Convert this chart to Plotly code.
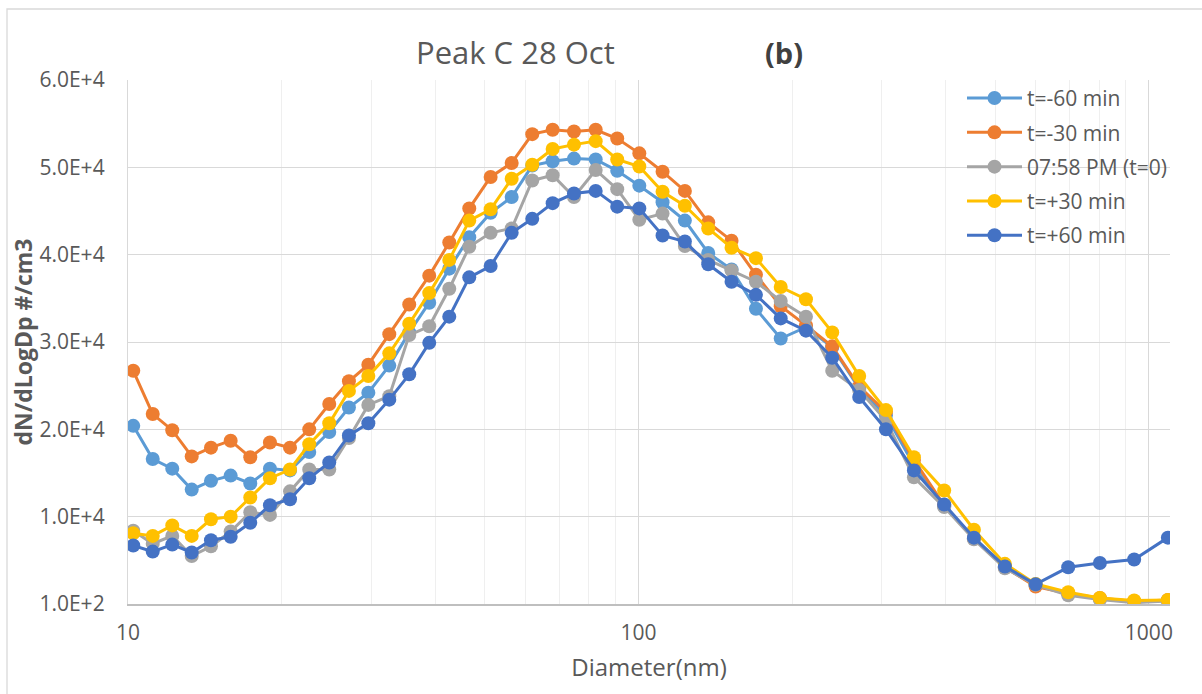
import plotly.graph_objects as go

# ---- data ----
diameter_nm = [10.24, 11.18, 12.21, 13.33, 14.54, 15.89, 17.36, 18.97, 20.77, 22.65,
               24.79, 27.09, 29.57, 32.50, 35.56, 38.92, 42.60, 46.62, 51.34, 56.45,
               61.94, 67.91, 74.77, 82.46, 90.88, 100.4, 111.5, 123.3, 137.0, 152.2,
               169.9, 190.0, 212.9, 239.7, 270.7, 305.4, 346.5, 397.2, 454.2, 522.3,
               600.0, 695.0, 801.8, 935.8, 1089.5]

t_minus_60 = [20500, 16700, 15600, 13200, 14200, 14800, 13900, 15600, 15400, 17500,
              19800, 22600, 24300, 27400, 31200, 34600, 38500, 42100, 44900, 46700,
              50300, 50800, 51100, 51000, 49700, 48000, 46100, 44000, 40300, 38400,
              33900, 30500, 31800, 29500, 24800, 21700, 16000, 11300, 7600, 4300,
              2200, 1300, 700, 400, 500]

t_minus_30 = [26800, 21850, 20000, 17000, 18000, 18800, 16900, 18600, 18000, 20100,
              23000, 25600, 27500, 31000, 34400, 37700, 41500, 45400, 49000, 50600,
              53900, 54400, 54200, 54400, 53400, 51700, 49600, 47400, 43800, 41700,
              37800, 34200, 32000, 29600, 25000, 22100, 16600, 11400, 7600, 4300,
              2100, 1300, 800, 400, 550]

t_zero = [8500, 7000, 7900, 5600, 6700, 8400, 10600, 10300, 13000, 15500,
          15500, 19100, 22900, 23900, 30900, 31900, 36200, 41000, 42600, 43100,
          48600, 49200, 46700, 49800, 47600, 44100, 44800, 41100, 39500, 38300,
          37000, 34800, 33000, 26800, 24600, 21100, 14600, 11200, 7500, 4200,
          2300, 1100, 600, 250, 450]

t_plus_30 = [8200, 7900, 9100, 7900, 9800, 10100, 12300, 14500, 15500, 18400,
             20800, 24500, 26200, 28800, 32200, 35700, 39500, 44000, 45300, 48800,
             50400, 52200, 52700, 53100, 51000, 50200, 47300, 45700, 43100, 40900,
             39700, 36400, 35000, 31200, 26200, 22300, 16900, 13100, 8600, 4700,
             2400, 1450, 800, 500, 550]

t_plus_60 = [6800, 6100, 6900, 6000, 7400, 7800, 9400, 11400, 12100, 14500,
             16300, 19400, 20800, 23500, 26400, 30000, 33000, 37500, 38800, 42600,
             44200, 46000, 47100, 47400, 45600, 45400, 42300, 41600, 39000, 37000,
             35500, 32800, 31400, 28300, 23800, 20100, 15400, 11500, 7700, 4400,
             2350, 4300, 4800, 5200, 7700]

series_names = ["t=-60 min", "t=-30 min", "07:58 PM (t=0)", "t=+30 min", "t=+60 min"]
series_colors = ["#5B9BD5", "#ED7D31", "#A5A5A5", "#FFC000", "#4472C4"]
y_tick_labels = ["1.0E+2", "1.0E+4", "2.0E+4", "3.0E+4", "4.0E+4", "5.0E+4", "6.0E+4"]
x_tick_values = [10, 100, 1000]
x_tick_labels = ["10", "100", "1000"]

FONT = "Open Sans"
TXT = "#595959"

fig = go.Figure()
for i, (name, color, vals) in enumerate(zip(series_names, series_colors,
                             [t_minus_60, t_minus_30, t_zero, t_plus_30, t_plus_60])):
    fig.add_trace(go.Scatter(
        x=diameter_nm, y=vals, name=name, mode="lines+markers",
        legendgroup=f"g{i}",
        line=dict(color=color, width=3),
        marker=dict(color=color, size=14, line=dict(width=0)),
    ))

y_tick_vals = [100 + 10000 * i for i in range(len(y_tick_labels))]

fig.update_layout(
    width=1202, height=694,
    margin=dict(l=128, r=32, t=80, b=90),
    paper_bgcolor="white", plot_bgcolor="white",
    font=dict(family=FONT, size=21, color=TXT),
    showlegend=True,
    legend=dict(x=(962 - 128) / 1042, y=1.004, xanchor="left", yanchor="top",
                bgcolor="rgba(0,0,0,0)", font=dict(size=21, color=TXT),
                itemwidth=55, tracegroupgap=4, traceorder="grouped"),
    xaxis=dict(
        type="log", range=[1, 3.0414],
        tickvals=x_tick_values, ticktext=x_tick_labels,
        showgrid=True, gridcolor="#D9D9D9", gridwidth=1.3,
        minor=dict(dtick="D1", showgrid=True, gridcolor="#EFEFEF", gridwidth=1.3, ticks=""),
        showline=True, linecolor="#BFBFBF", linewidth=1.5, mirror=False,
        ticks="outside", ticklen=9, tickcolor="rgba(0,0,0,0)",
        tickfont=dict(size=21, color=TXT), zeroline=False,
        title=dict(text="Diameter(nm)", font=dict(size=24, color=TXT), standoff=14),
    ),
    yaxis=dict(
        range=[100, 60100],
        tickvals=y_tick_vals, ticktext=y_tick_labels,
        showgrid=True, gridcolor="#D9D9D9", gridwidth=1.3,
        showline=True, linecolor="#D9D9D9", linewidth=1.3,
        ticks="outside", ticklen=18, tickcolor="rgba(0,0,0,0)",
        tickfont=dict(size=21, color=TXT), zeroline=False,
        title=dict(text="<b>dN/dLogDp #/cm3</b>", font=dict(size=23, color=TXT), standoff=0),
    ),
)

fig.update_xaxes(layer="above traces")

# title texts
fig.add_annotation(text="Peak C 28 Oct", xref="paper", yref="paper",
                   x=(515 - 128) / 1042, y=1 + (80 - 52) / 524,
                   showarrow=False, xanchor="center", yanchor="middle",
                   font=dict(size=31, color=TXT, family=FONT))
fig.add_annotation(text="<b>(b)</b>", xref="paper", yref="paper",
                   x=(784 - 128) / 1042, y=1 + (80 - 52) / 524,
                   showarrow=False, xanchor="center", yanchor="middle",
                   font=dict(size=29, color="#404040", family=FONT))

# outer chart border (top/left visible)
fig.add_shape(type="rect", xref="paper", yref="paper",
              x0=(7 - 128) / 1042, x1=(1215 - 128) / 1042,
              y0=-(710 - 604) / 524, y1=1 + (80 - 9) / 524,
              line=dict(color="#D9D9D9", width=1.3), fillcolor="rgba(0,0,0,0)", layer="below")

fig.write_html("out.html")
